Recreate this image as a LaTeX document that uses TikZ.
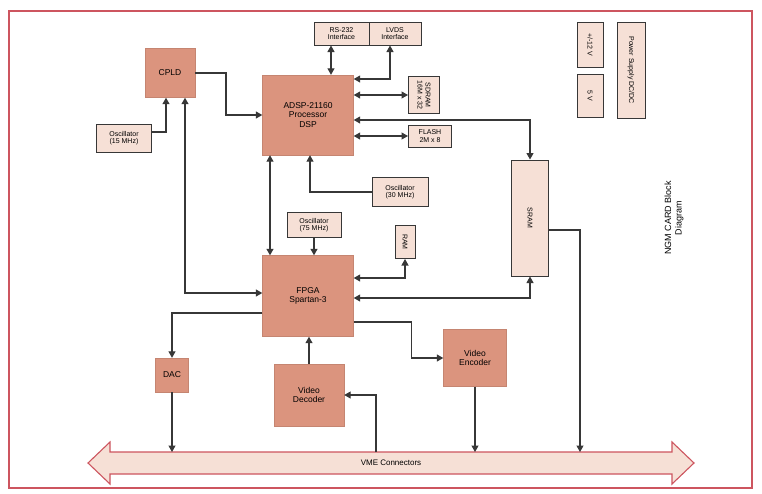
\documentclass[tikz,border=0pt]{standalone}
\usepackage{fontspec}
\setmainfont{Liberation Sans}
\usetikzlibrary{arrows.meta}
\definecolor{dark}{RGB}{219,148,126}
\definecolor{light}{RGB}{246,224,214}
\definecolor{frame}{RGB}{205,85,95}
\definecolor{wire}{RGB}{55,55,55}
\tikzset{
  bigbox/.style={fill=dark, draw=dark!90!black, line width=0.4pt, inner sep=0pt, align=center, font=\fontsize{8.5}{9.5}\selectfont},
  lightbox/.style={fill=light, draw=wire, line width=1pt, inner sep=0pt, align=center, font=\fontsize{7}{7.6}\selectfont},
  ln/.style={draw=wire, line width=1.1pt},
  ar/.style={ln, -{Triangle[length=6.5pt,width=7pt]}},
  dar/.style={ln, {Triangle[length=6.5pt,width=7pt]}-{Triangle[length=6.5pt,width=7pt]}},
}
\begin{document}
\begin{tikzpicture}[x=1pt,y=-1pt]
\useasboundingbox (0,0) rectangle (762,493);
\fill[white] (0,0) rectangle (762,493);
\draw[frame, line width=1.8pt] (9,11) rectangle (752,488);

% main blocks
\node[bigbox, minimum width=50pt, minimum height=49pt] (cpld) at (170,73) {CPLD};
\node[bigbox, minimum width=91pt, minimum height=80pt] (proc) at (308,115) {ADSP-21160\\Processor\\DSP};
\node[bigbox, minimum width=91pt, minimum height=81pt] (fpga) at (308,296) {FPGA\\Spartan-3};
\node[bigbox, minimum width=63pt, minimum height=57pt] (enc) at (475,358) {Video\\Encoder};
\node[bigbox, minimum width=33pt, minimum height=34pt] (dac) at (172,375) {DAC};
\node[bigbox, minimum width=70pt, minimum height=62pt] (dec) at (309,395) {Video\\Decoder};

% light blocks
\node[lightbox, minimum width=55pt, minimum height=28pt] (osc15) at (124,138) {Oscillator\\(15 MHz)};
\node[lightbox, minimum width=55pt, minimum height=23pt] (topL) at (341.5,33.5) {RS-232\\Interface};
\node[lightbox, minimum width=52pt, minimum height=23pt] (topR) at (395,33.5) {LVDS\\Interface};
\node[lightbox, minimum width=31pt, minimum height=37pt] (sdram) at (424,95) {\rotatebox{-90}{\shortstack{SDRAM\\16M x 32}}};
\node[lightbox, minimum width=43pt, minimum height=22pt] (flash) at (430,136) {FLASH\\2M x 8};
\node[lightbox, minimum width=26pt, minimum height=45pt] (pw1) at (590,44.5) {\rotatebox{-90}{+/-12 V}};
\node[lightbox, minimum width=26pt, minimum height=43pt] (pw2) at (590,95.5) {\rotatebox{-90}{5 V}};
\node[lightbox, minimum width=28pt, minimum height=96pt] (pw3) at (631,70) {\rotatebox{-90}{Power Supply DC/DC}};
\node[lightbox, minimum width=37pt, minimum height=116pt] (sram) at (530,218) {\rotatebox{-90}{SRAM}};
\node[lightbox, minimum width=56pt, minimum height=29pt] (osc30) at (400,192) {Oscillator\\(30 MHz)};
\node[lightbox, minimum width=54pt, minimum height=25pt] (osc75) at (314,225) {Oscillator\\(75 MHz)};
\node[lightbox, minimum width=20pt, minimum height=33pt] (sm) at (405,242) {\rotatebox{-90}{RAM}};

% title
\node[font=\fontsize{9}{10.5}\selectfont, align=center, rotate=90] (title) at (674,218) {NGM CARD Block\\Diagram};

% VME bus
\draw[frame, fill=light, line width=1.1pt] (88,463) -- (110,442) -- (110,452) -- (672,452) -- (672,442) -- (694,463) -- (672,484) -- (672,474) -- (110,474) -- (110,484) -- cycle;
\node[font=\fontsize{8}{9}\selectfont] (vme) at (391,463) {VME Connectors};
\coordinate (vmetop) at (0,452);

% helper coordinates
\coordinate (p1) at ([xshift=23pt]proc.north);
\coordinate (p2) at ([yshift=36pt]proc.east);
\coordinate (v2) at (376,452);
\coordinate (v4) at (580,452);

% connectors
\draw[ar] (cpld.east) -- (226,73) |- (proc.west);
\draw[ar] ([yshift=6pt]osc15.east) -| ([xshift=-4pt]cpld.south);
\draw[dar] ([xshift=15pt]cpld.south) |- ([yshift=3pt]fpga.west);
\draw[dar] ([xshift=-38pt]proc.south) -- ([xshift=-38pt]fpga.north);
\draw[ar] (osc30.west) -| ([xshift=2pt]proc.south);
\draw[ar] (osc75.south) -- (osc75.south |- fpga.north);
\draw[dar] (p1) -- (p1 |- topL.south);
\draw[dar] ([xshift=-5pt]topR.south) |- (p2);
\draw[dar] (sdram.west -| proc.east) -- (sdram.west);
\draw[dar] ([yshift=-5pt]proc.east) -| (sram.north);
\draw[dar] (flash.west -| proc.east) -- (flash.west);
\draw[dar] (sram.south) |- ([yshift=-2pt]fpga.east);
\draw[ar] ([yshift=-12pt]sram.east) -| (v4);
\draw[dar] ([yshift=18pt]fpga.east) -| (sm.south);
\draw[ar] ([yshift=-26pt]fpga.east) -- ++(58,0) |- (enc.west);
\draw[ar] ([yshift=-17pt]fpga.west) -| (dac.north);
\draw[ar] (dac.south) -- (dac.south |- vmetop);
\draw[ar] (dec.north) -- (dec.north |- fpga.south);
\draw[ar] (v2) |- (dec.east);
\draw[ar] (enc.south) -- (enc.south |- vmetop);
\end{tikzpicture}
\end{document}
